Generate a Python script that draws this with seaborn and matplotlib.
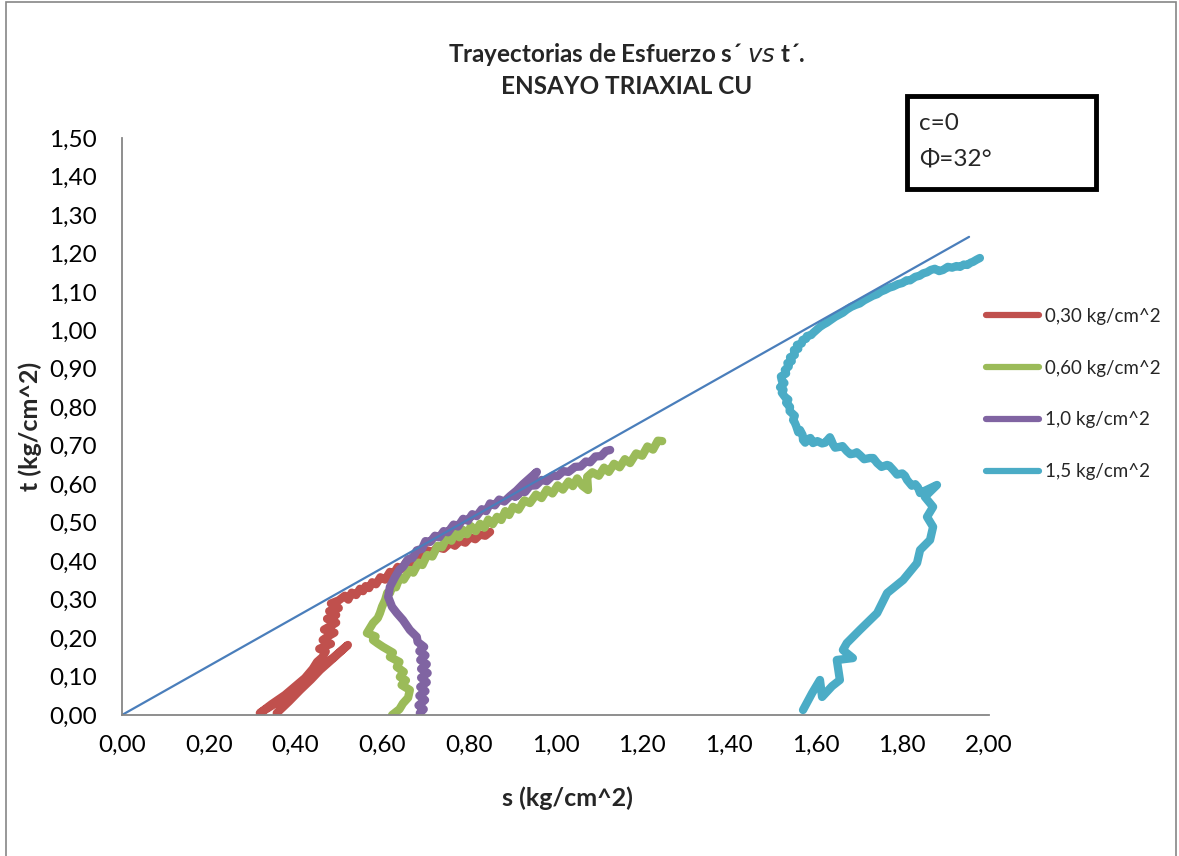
import matplotlib
matplotlib.use("Agg")
import matplotlib.pyplot as plt
import matplotlib.patches as mpatches
from matplotlib.lines import Line2D
import seaborn as sns
import pandas as pd

# ---- data: stress paths (s', t') in kg/cm^2 -------------------------------
s_030 = [0.357, 0.385, 0.411, 0.436, 0.457, 0.490, 0.521, 0.488, 0.457, 0.432,
         0.411, 0.365, 0.318, 0.345, 0.376, 0.400, 0.422, 0.440, 0.450, 0.462,
         0.470, 0.455, 0.482, 0.463, 0.476, 0.490, 0.466, 0.482, 0.494, 0.473,
         0.494, 0.478, 0.500, 0.482, 0.500,
         0.514, 0.522, 0.530, 0.540, 0.549, 0.556, 0.562, 0.570, 0.577, 0.586,
         0.596, 0.607, 0.618, 0.627, 0.636, 0.646, 0.657, 0.668, 0.680, 0.692,
         0.704, 0.716, 0.728, 0.742, 0.757, 0.768, 0.780, 0.792, 0.803, 0.815,
         0.826, 0.838, 0.849]
t_030 = [0.005, 0.035, 0.065, 0.092, 0.117, 0.150, 0.182, 0.150, 0.122, 0.098,
         0.073, 0.038, 0.005, 0.028, 0.052, 0.075, 0.096, 0.120, 0.138, 0.150,
         0.165, 0.172, 0.185, 0.195, 0.205, 0.214, 0.222, 0.232, 0.240, 0.250,
         0.260, 0.270, 0.278, 0.290, 0.298,
         0.310, 0.300, 0.318, 0.312, 0.328, 0.322, 0.335, 0.330, 0.345, 0.340,
         0.358, 0.352, 0.372, 0.368, 0.385, 0.380, 0.400, 0.396, 0.414, 0.408,
         0.428, 0.424, 0.436, 0.432, 0.447, 0.440, 0.453, 0.448, 0.462, 0.457,
         0.469, 0.466, 0.476]

s_060 = [0.623, 0.640, 0.648, 0.660, 0.664, 0.645, 0.655, 0.641, 0.650, 0.634,
         0.640, 0.618, 0.625, 0.602, 0.590, 0.579, 0.585, 0.565, 0.572, 0.579,
         0.590, 0.595, 0.600, 0.607,
         0.612, 0.618, 0.626, 0.632, 0.641, 0.650, 0.664, 0.672, 0.684, 0.693,
         0.704, 0.716, 0.728, 0.738, 0.750, 0.760, 0.768, 0.778, 0.787, 0.796,
         0.805, 0.816, 0.826, 0.836, 0.845, 0.855, 0.865, 0.875, 0.884, 0.893,
         0.902, 0.915, 0.928, 0.941, 0.955, 0.968, 0.980, 0.993, 1.005, 1.017,
         1.030, 1.040, 1.050, 1.062, 1.075, 1.073, 1.085, 1.100, 1.112, 1.123,
         1.135, 1.148, 1.160, 1.172, 1.186, 1.200, 1.212, 1.225, 1.236, 1.246]
t_060 = [0.000, 0.015, 0.030, 0.045, 0.065, 0.078, 0.090, 0.099, 0.112, 0.125,
         0.138, 0.151, 0.162, 0.177, 0.186, 0.195, 0.204, 0.213, 0.226, 0.239,
         0.252, 0.265, 0.282, 0.299,
         0.318, 0.317, 0.341, 0.332, 0.359, 0.352, 0.377, 0.370, 0.396, 0.390,
         0.416, 0.412, 0.440, 0.436, 0.463, 0.453, 0.474, 0.462, 0.481, 0.470,
         0.491, 0.478, 0.497, 0.487, 0.508, 0.496, 0.515, 0.507, 0.530, 0.520,
         0.541, 0.534, 0.558, 0.551, 0.573, 0.564, 0.586, 0.576, 0.597, 0.586,
         0.607, 0.595, 0.615, 0.596, 0.585, 0.619, 0.631, 0.622, 0.643, 0.632,
         0.653, 0.644, 0.665, 0.655, 0.680, 0.674, 0.698, 0.690, 0.713, 0.712]

s_100 = [0.687, 0.696, 0.684, 0.699, 0.686, 0.700, 0.688, 0.703, 0.690, 0.705,
         0.690, 0.703, 0.688, 0.700, 0.686, 0.697, 0.682, 0.680, 0.664, 0.656,
         0.648, 0.634, 0.623, 0.614, 0.618, 0.630,
         0.640, 0.648, 0.660, 0.670, 0.680, 0.692, 0.700, 0.711, 0.722, 0.732,
         0.742, 0.752, 0.765, 0.775, 0.787, 0.798, 0.808, 0.818, 0.830, 0.840,
         0.849, 0.860, 0.870, 0.882, 0.895, 0.910, 0.925, 0.940, 0.957, 0.930,
         0.907, 0.918, 0.930, 0.941, 0.955, 0.968, 0.980, 0.993, 1.005, 1.018,
         1.030, 1.045, 1.058, 1.070, 1.080, 1.092, 1.105, 1.116, 1.126]
t_100 = [0.005, 0.015, 0.025, 0.039, 0.050, 0.062, 0.073, 0.085, 0.097, 0.109,
         0.120, 0.132, 0.143, 0.155, 0.166, 0.177, 0.190, 0.203, 0.221, 0.234,
         0.247, 0.265, 0.281, 0.307, 0.333, 0.359,
         0.378, 0.385, 0.405, 0.408, 0.428, 0.432, 0.452, 0.450, 0.466, 0.462,
         0.478, 0.475, 0.495, 0.490, 0.510, 0.505, 0.522, 0.517, 0.535, 0.530,
         0.550, 0.545, 0.560, 0.555, 0.569, 0.583, 0.600, 0.615, 0.632, 0.590,
         0.567, 0.581, 0.580, 0.596, 0.597, 0.611, 0.608, 0.622, 0.621, 0.634,
         0.632, 0.645, 0.646, 0.659, 0.657, 0.672, 0.673, 0.686, 0.689]

s_150 = [1.571, 1.592, 1.610, 1.615, 1.638, 1.656, 1.649, 1.686, 1.663, 1.672,
         1.702, 1.742, 1.765, 1.802, 1.834, 1.841, 1.864, 1.871, 1.857, 1.871,
         1.852, 1.880,
         1.841, 1.836, 1.830, 1.822, 1.811, 1.806, 1.800, 1.788, 1.779, 1.770,
         1.765, 1.752, 1.742, 1.733, 1.725, 1.712, 1.702, 1.695, 1.690, 1.680,
         1.672, 1.662, 1.655, 1.645, 1.640, 1.636, 1.633, 1.622, 1.615, 1.604,
         1.594, 1.588, 1.582, 1.576, 1.571, 1.570, 1.564, 1.560, 1.555, 1.552,
         1.548, 1.552, 1.545, 1.540, 1.541, 1.535, 1.532, 1.537, 1.529, 1.522,
         1.526, 1.518, 1.528, 1.522, 1.520, 1.532, 1.529, 1.538, 1.535, 1.545,
         1.541, 1.552, 1.550, 1.560, 1.557, 1.568, 1.570, 1.578, 1.580, 1.590,
         1.594, 1.603, 1.610, 1.618, 1.626, 1.636, 1.645, 1.655, 1.663, 1.672,
         1.682, 1.692, 1.702, 1.712, 1.722, 1.732, 1.742, 1.751, 1.760, 1.770,
         1.779, 1.790, 1.800, 1.810, 1.818, 1.830, 1.840, 1.848, 1.857, 1.866,
         1.875, 1.885, 1.894, 1.905, 1.915, 1.925, 1.933, 1.942, 1.950, 1.958,
         1.963, 1.972, 1.979]
t_150 = [0.013, 0.057, 0.091, 0.047, 0.075, 0.091, 0.143, 0.148, 0.169, 0.187,
         0.221, 0.265, 0.317, 0.351, 0.395, 0.429, 0.455, 0.489, 0.515, 0.541,
         0.567, 0.598,
         0.577, 0.592, 0.600, 0.596, 0.611, 0.622, 0.628, 0.625, 0.637, 0.648,
         0.650, 0.645, 0.655, 0.668, 0.668, 0.665, 0.676, 0.683, 0.680, 0.678,
         0.686, 0.699, 0.697, 0.695, 0.704, 0.715, 0.722, 0.708, 0.706, 0.712,
         0.707, 0.720, 0.717, 0.708, 0.715, 0.728, 0.741, 0.735, 0.752, 0.760,
         0.767, 0.778, 0.785, 0.790, 0.801, 0.808, 0.812, 0.820, 0.827, 0.838,
         0.845, 0.852, 0.863, 0.870, 0.880, 0.888, 0.897, 0.906, 0.915, 0.920,
         0.930, 0.936, 0.949, 0.952, 0.962, 0.966, 0.975, 0.978, 0.985, 0.988,
         0.993, 1.002, 1.009, 1.015, 1.020, 1.028, 1.035, 1.041, 1.046, 1.054,
         1.061, 1.066, 1.070, 1.078, 1.084, 1.090, 1.094, 1.101, 1.105, 1.111,
         1.114, 1.120, 1.123, 1.130, 1.130, 1.139, 1.142, 1.148, 1.151, 1.157,
         1.160, 1.154, 1.157, 1.165, 1.163, 1.167, 1.165, 1.171, 1.170, 1.176,
         1.178, 1.184, 1.188]

# Mohr-Coulomb failure envelope (c = 0, phi = 32 deg)
s_env = [0.0, 1.954]
t_env = [0.0, 1.243]

series_labels = ["0,30 kg/cm^2", "0,60 kg/cm^2", "1,0 kg/cm^2", "1,5 kg/cm^2"]
series_colors = ["#C0504D", "#9BBB59", "#8064A2", "#4BACC6"]
x_ticks = [0.0, 0.2, 0.4, 0.6, 0.8, 1.0, 1.2, 1.4, 1.6, 1.8, 2.0]
y_ticks = [0.0, 0.1, 0.2, 0.3, 0.4, 0.5, 0.6, 0.7, 0.8, 0.9, 1.0, 1.1, 1.2,
           1.3, 1.4, 1.5]

# ---- long table for seaborn ------------------------------------------------
frames = []
for lab, s, t in zip(series_labels, [s_030, s_060, s_100, s_150],
                     [t_030, t_060, t_100, t_150]):
    frames.append(pd.DataFrame({"s": s, "t": t, "serie": lab}))
df = pd.concat(frames, ignore_index=True)

sns.set_style("white")
plt.rcParams["font.family"] = ["Lato", "DejaVu Sans"]

W, H = 1179, 856
fig = plt.figure(figsize=(W / 100, H / 100), dpi=100)
ax = fig.add_axes([122 / W, 1 - 715 / H, (989 - 122) / W, (715 - 138) / H])

sns.lineplot(data=df, x="s", y="t", hue="serie", hue_order=series_labels,
             palette=series_colors, sort=False, estimator=None, units="serie",
             linewidth=6, legend=False, ax=ax,
             solid_capstyle="round", solid_joinstyle="round")
sns.lineplot(x=s_env, y=t_env, color="#4A7EBB", linewidth=1.6, ax=ax,
             sort=False, estimator=None)

ax.set_xlim(0, 2.0)
ax.set_ylim(0, 1.5)
ax.set_xticks(x_ticks)
ax.set_yticks(y_ticks)
ax.set_xticklabels([f"{v:.2f}".replace(".", ",") for v in x_ticks])
ax.set_yticklabels([f"{v:.2f}".replace(".", ",") for v in y_ticks])
ax.tick_params(axis="both", length=0, labelsize=17.5, colors="black")
ax.tick_params(axis="x", pad=14)
ax.tick_params(axis="y", pad=18)
for side in ("top", "right"):
    ax.spines[side].set_visible(False)
for side in ("left", "bottom"):
    ax.spines[side].set_color("#868686")
    ax.spines[side].set_linewidth(1.3)
ax.grid(False)

ax.set_xlabel("s (kg/cm^2)", fontsize=18, fontweight="bold")
ax.set_ylabel("t (kg/cm^2)", fontsize=18, fontweight="bold")
ax.xaxis.set_label_coords((567 - 122) / 867, (715 - 786) / 577)
ax.yaxis.set_label_coords((42 - 122) / 867, 0.5)

fig.text(627 / W, 1 - 55 / H, "Trayectorias de Esfuerzo s\u00b4 $\\mathit{vs}$ t\u00b4.",
         ha="center", va="center", fontsize=17.5, fontweight="bold")
fig.text(627 / W, 1 - 87 / H, "ENSAYO TRIAXIAL CU", ha="center", va="center",
         fontsize=17.5, fontweight="bold")

# parameter box
fig.patches.append(mpatches.Rectangle((907 / W, 1 - 189 / H), 189 / W, 93 / H,
                                      transform=fig.transFigure, fill=False,
                                      edgecolor="black", linewidth=3.5))
fig.text(919 / W, 1 - 124 / H, "c=0", ha="left", va="center", fontsize=17.5)
fig.text(919 / W, 1 - 159 / H, "\u03a6=32\u00b0", ha="left", va="center",
         fontsize=17.5)

# outer chart frame
fig.patches.append(mpatches.Rectangle((6 / W, -0.01), (1176 - 6) / W,
                                      1.01 - 2 / H, transform=fig.transFigure,
                                      fill=False, edgecolor="#868686",
                                      linewidth=1.2))

handles = [Line2D([0], [0], color=c, linewidth=4.5) for c in series_colors]
fig.legend(handles, series_labels, loc="upper left",
           bbox_to_anchor=(986 / W, 1 - 308 / H), frameon=False,
           fontsize=13.5, handlelength=2.8, handletextpad=0.35,
           labelspacing=1.85, borderpad=0, borderaxespad=0)

fig.savefig("out.png", dpi=100)
